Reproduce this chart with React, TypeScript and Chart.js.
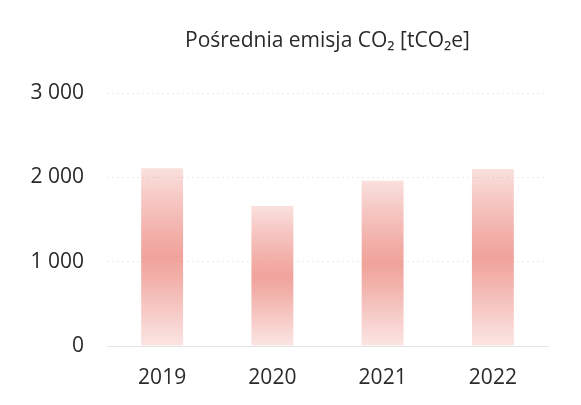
import React, { useEffect, useRef } from "react";
import { Chart, registerables } from "chart.js";

Chart.register(...registerables);

const categories = ["2019", "2020", "2021", "2022"];
const emissions = [2110, 1660, 1960, 2100];
const yTicks = [0, 1000, 2000, 3000];
const titleText = "Pośrednia emisja CO₂ [tCO₂e]";

const fmt = (v: number) => {
  const s = Math.round(v).toString();
  return s.replace(/\B(?=(\d{3})+(?!\d))/g, " ");
};

export default function App() {
  const ref = useRef<HTMLCanvasElement | null>(null);
  useEffect(() => {
    document.body.style.margin = "0";
    const canvas = ref.current!;
    const chart = new Chart(canvas, {
      type: "bar",
      data: {
        labels: categories,
        datasets: [
          {
            data: emissions,
            backgroundColor: (ctx: any) => {
              const c = ctx.chart;
              const ys = c.scales?.y;
              if (!c.chartArea || !ys || ctx.raw == null) return "rgba(238,140,130,0.6)";
              const top = ys.getPixelForValue(ctx.raw);
              const bot = ys.getPixelForValue(0);
              if (!isFinite(top) || !isFinite(bot) || bot - top < 1) return "rgba(238,140,130,0.6)";
              const g = c.ctx.createLinearGradient(0, top, 0, bot);
              g.addColorStop(0, "rgba(240,165,158,0.35)");
              g.addColorStop(0.15, "rgba(238,150,142,0.5)");
              g.addColorStop(0.35, "rgba(236,138,128,0.66)");
              g.addColorStop(0.5, "rgba(235,130,120,0.74)");
              g.addColorStop(0.65, "rgba(236,138,128,0.64)");
              g.addColorStop(0.85, "rgba(238,152,145,0.46)");
              g.addColorStop(1, "rgba(240,168,162,0.3)");
              return g;
            },
            borderWidth: 0,
            barPercentage: 0.38,
            categoryPercentage: 1,
          },
        ],
      },
      options: {
        animation: false,
        responsive: false,
        maintainAspectRatio: false,
        layout: { padding: { left: 0, right: 33, top: 0, bottom: 0 } },
        plugins: {
          legend: { display: false },
          tooltip: { enabled: false },
          title: {
            display: true,
            text: titleText,
            fullSize: false,
            color: "#2a2a2a",
            font: { family: "'Open Sans', sans-serif", size: 21, weight: "normal" },
            padding: { top: 28, bottom: 40 },
          },
        },
        scales: {
          x: {
            grid: { display: false, drawTicks: false },
            border: { display: true, color: "#e4e4e4", width: 1 },
            ticks: {
              color: "#2a2a2a",
              font: { family: "'Open Sans', sans-serif", size: 21 },
              padding: 19,
            },
            afterFit: (s: any) => {
              s.height = 59;
            },
          },
          y: {
            min: 0,
            max: 3000,
            afterBuildTicks: (s: any) => {
              s.ticks = yTicks.map((v) => ({ value: v }));
            },
            grid: { color: "#ebebeb", lineWidth: 1, drawTicks: false },
            border: { display: false, dash: [2, 3] },
            ticks: {
              color: "#2a2a2a",
              font: { family: "'Open Sans', sans-serif", size: 21 },
              padding: 23,
              callback: (v: any) => fmt(Number(v)),
            },
            afterFit: (s: any) => {
              s.width = 107;
            },
          },
        },
      } as any,
    });
    return () => chart.destroy();
  }, []);
  return (
    <div style={{ width: 581, height: 405, background: "#fff" }}>
      <canvas ref={ref} width={581} height={405} style={{ display: "block" }} />
    </div>
  );
}
